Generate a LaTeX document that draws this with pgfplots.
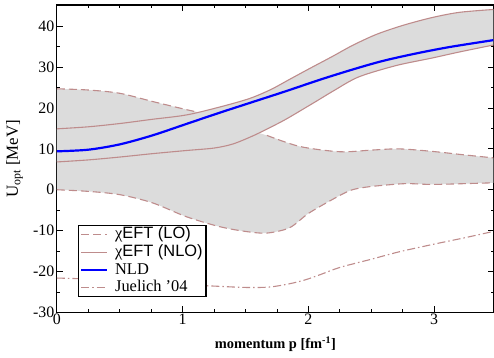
\documentclass[border=0pt]{standalone}
\usepackage{pgfplots}
\usepackage{pgfplotstable}
\pgfplotsset{compat=1.18}
\usepgfplotslibrary{fillbetween}
\usepackage{fontspec}
\setmainfont{Liberation Serif}
\setsansfont{Liberation Sans}
\definecolor{lo}{RGB}{190,140,140}
\definecolor{band}{RGB}{220,220,220}
\definecolor{nld}{RGB}{0,0,255}
\pgfplotstableread{
x y
0 24.7
0.25 24.4
0.5 23.6
0.76 21.6
1.03 19.6
1.12 19.0
1.3 17.0
1.5 14.8
1.67 13.3
1.93 10.6
2.25 9.3
2.5 9.7
2.72 10.0
2.98 9.4
3.25 8.5
3.47 7.8
}\LOu
\pgfplotstableread{
x y
0 0
0.25 -0.4
0.5 -1.2
0.76 -3.2
1.03 -6.6
1.29 -9.0
1.5 -10.2
1.67 -10.6
1.85 -9.3
2.0 -5.8
2.19 -2.4
2.33 -0.2
2.45 0.6
2.6 1.1
2.78 1.5
2.98 1.3
3.25 1.5
3.47 1.7
}\LOl
\pgfplotstableread{
x y
0 14.9
0.25 15.4
0.5 16.2
0.75 17.2
1.03 18.3
1.29 20.2
1.53 22.3
1.7 24.5
1.85 27.0
2.0 29.5
2.19 32.6
2.35 35.3
2.54 38.0
2.75 40.2
2.98 42.1
3.2 43.4
3.47 44.1
}\NLOu
\pgfplotstableread{
x y
0 6.8
0.25 7.3
0.5 8.0
0.75 8.8
1.03 9.6
1.25 10.2
1.4 11.2
1.56 13.2
1.7 15.3
1.83 17.4
2.06 21.6
2.2 24.2
2.4 27.6
2.7 30.4
2.98 32.2
3.2 33.7
3.47 35.4
}\NLOl
\pgfplotstableread{
x y
0 9.4
0.25 9.8
0.5 11.1
0.76 13.3
1.03 16.1
1.29 18.8
1.56 21.5
1.83 24.2
2.09 26.9
2.35 29.4
2.59 31.5
2.85 33.3
3.12 34.9
3.47 36.6
}\NLD
\pgfplotstableread{
x y
0 -21.6
0.3 -21.9
0.6 -22.5
0.9 -23.1
1.2 -23.5
1.5 -23.9
1.69 -23.8
1.85 -23.0
1.98 -22.0
2.1 -20.7
2.25 -19.0
2.5 -17.0
2.72 -15.2
3.0 -13.3
3.25 -11.7
3.47 -10.2
}\JU
\begin{document}
\begin{tikzpicture}
\begin{axis}[
  set layers,
  scale only axis, width=438bp, height=308bp,
  xmin=0, xmax=3.476, ymin=-30, ymax=45.2,
  xtick={0,1,2,3}, ytick={-30,-20,...,40},
  minor x tick num=3, minor y tick num=1,
  major tick length=6bp, minor tick length=3.5bp,
  tick style={black, line width=0.8bp},
  axis line style={line width=1.2bp},
  ticklabel style={font=\fontsize{16}{18}\selectfont},
  xticklabel style={yshift=1.5bp},
  yticklabel style={xshift=1bp},
  /pgf/number format/assume math mode=true,
  xlabel={\textbf{momentum p [fm\textsuperscript{-1}]}},
  ylabel={U\textsubscript{opt} [MeV]},
  xlabel style={font=\fontsize{14.5}{16}\selectfont, at={(axis description cs:0.5,-0.104)}, anchor=center},
  ylabel style={font=\fontsize{17}{18}\selectfont, at={(axis description cs:-0.097,0.5)}, anchor=center},
  legend style={at={(axis description cs:0.048,0.05)}, anchor=south west,
    font=\fontsize{16.5}{17}\selectfont, draw=black, line width=1.3bp,
    inner xsep=1.5bp, inner ysep=0bp, row sep=0bp,
    nodes={text height=12bp, text depth=3.5bp, inner ysep=1.1bp},
    cells={anchor=west}},
  legend image code/.code={\draw[#1] (0bp,0bp) -- (26bp,0bp); \path (31bp,0bp);},
]
\addplot[draw=none, smooth, name path=LOu, forget plot] table {\LOu};
\addplot[draw=none, smooth, name path=LOl, forget plot] table {\LOl};
\addplot[draw=none, smooth, name path=NLOu, forget plot] table {\NLOu};
\addplot[draw=none, smooth, name path=NLOl, forget plot] table {\NLOl};
\addplot[band, forget plot] fill between[of=LOu and LOl];
\addplot[band, forget plot] fill between[of=NLOu and NLOl];
\addplot[lo, smooth, line width=1.1bp, dash pattern=on 8bp off 4bp, restrict x to domain=0:1.12] table {\LOu};
\addlegendentry{χ{\sffamily EFT (LO)}}
\addplot[lo, smooth, line width=1.1bp, dash pattern=on 8bp off 4bp, restrict x to domain=1.67:4, forget plot] table {\LOu};
\addplot[lo, smooth, line width=1.1bp, dash pattern=on 8bp off 4bp, forget plot] table {\LOl};
\addplot[lo, smooth, line width=1.1bp] table {\NLOu};
\addlegendentry{χ{\sffamily EFT (NLO)}}
\addplot[lo, smooth, line width=1.1bp, forget plot] table {\NLOl};
\addplot[nld, smooth, line width=2.2bp] table {\NLD};
\addlegendentry{NLD}
\addplot[lo, smooth, line width=1.1bp, dash pattern=on 8bp off 3bp on 1.5bp off 3bp] table {\JU};
\addlegendentry{Juelich '04}
\end{axis}
\pgfresetboundingbox
\path (current axis.south west) ++(-57bp,-45bp) coordinate (bl);
\path (current axis.north east) ++(-1bp,5bp) coordinate (tr);
\useasboundingbox (bl) rectangle (tr);
\end{tikzpicture}
\end{document}
